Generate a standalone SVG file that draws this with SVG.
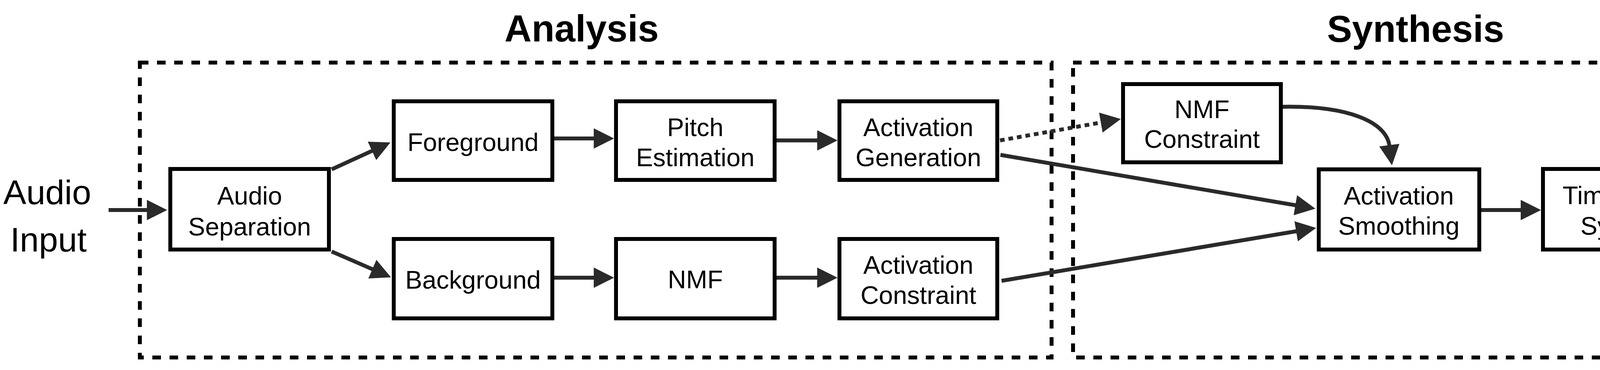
<svg xmlns="http://www.w3.org/2000/svg" width="4906" height="946" viewBox="0 0 4906 946">
<style>
.bg{fill:#ffffff}
.frame{fill:none;stroke:#000;stroke-width:10;stroke-dasharray:22 22}
.box{fill:#fff;stroke:#000;stroke-width:10}
.lbl{font-family:"Liberation Sans",Arial,Helvetica,sans-serif;font-size:65px;fill:#000;text-anchor:middle}
.big{font-family:"Liberation Sans",Arial,Helvetica,sans-serif;font-size:88px;fill:#000;text-anchor:middle}
.title{font-family:"Liberation Sans",Arial,Helvetica,sans-serif;font-size:96px;font-weight:bold;fill:#000;text-anchor:middle}
.conn{fill:none;stroke:#2a2a2a;stroke-width:10;marker-end:url(#arrow)}
.dot{stroke-dasharray:12 10}
</style>
<defs>
<marker id="arrow" markerUnits="userSpaceOnUse" viewBox="0 0 52 52" markerWidth="52" markerHeight="52" refX="2" refY="26" orient="auto">
<path d="M0,0 L52,26 L0,52 Z" fill="#2a2a2a"/>
</marker>
</defs>
<rect class="bg" x="0" y="0" width="4906" height="946"/>

<g id="analysis-frame">
<rect class="frame" x="358" y="160" width="2334" height="754"/>
<text class="title" x="1489" y="106">Analysis</text>
</g>
<g id="synthesis-frame">
<rect class="frame" x="2747" y="160" width="1728" height="754"/>
<text class="title" x="3624" y="107">Synthesis</text>
</g>

<g id="connectors">
<path class="conn" d="M278,537 L378,537"/>
<path class="conn" d="M849,433 L954,385"/>
<path class="conn" d="M849,643 L955,689"/>
<path class="conn" d="M1419,354 L1522,354"/>
<path class="conn" d="M1988,359 L2094,359"/>
<path class="conn" d="M1419,710 L1522,710"/>
<path class="conn" d="M1988,710 L2094,710"/>
<path class="conn dot" d="M2560,359 L2820,313"/>
<path class="conn" d="M2561,396 L3318,525"/>
<path class="conn" d="M2564,718 L3320,591"/>
<path class="conn" d="M3284,273 C3450,270 3549,311 3557,373"/>
<path class="conn" d="M3792,537 L3895,537"/>
<path class="conn" d="M4430,554 L4533,554"/>
</g>

<g id="audio-input">
<text class="big" x="121" y="522">Audio</text>
<text class="big" x="124" y="643">Input</text>
</g>

<g id="audio-separation">
<rect class="box" x="436" y="432" width="406" height="206"/>
<text class="lbl" x="639" y="523">Audio</text>
<text class="lbl" x="639" y="602">Separation</text>
</g>

<g id="foreground">
<rect class="box" x="1008" y="259" width="406" height="201"/>
<text class="lbl" x="1211" y="386">Foreground</text>
</g>

<g id="pitch-estimation">
<rect class="box" x="1577" y="259" width="406" height="201"/>
<text class="lbl" x="1780" y="348">Pitch</text>
<text class="lbl" x="1780" y="425">Estimation</text>
</g>

<g id="activation-generation">
<rect class="box" x="2149" y="259" width="404" height="201"/>
<text class="lbl" x="2351" y="348">Activation</text>
<text class="lbl" x="2351" y="425">Generation</text>
</g>

<g id="background">
<rect class="box" x="1008" y="611" width="406" height="203"/>
<text class="lbl" x="1211" y="738">Background</text>
</g>

<g id="nmf">
<rect class="box" x="1577" y="611" width="406" height="203"/>
<text class="lbl" x="1780" y="737">NMF</text>
</g>

<g id="activation-constraint">
<rect class="box" x="2149" y="611" width="404" height="203"/>
<text class="lbl" x="2351" y="700">Activation</text>
<text class="lbl" x="2351" y="777">Constraint</text>
</g>

<g id="nmf-constraint">
<rect class="box" x="2875" y="215" width="404" height="200"/>
<text class="lbl" x="3077" y="302">NMF</text>
<text class="lbl" x="3077" y="378">Constraint</text>
</g>

<g id="activation-smoothing">
<rect class="box" x="3376" y="433" width="411" height="205"/>
<text class="lbl" x="3581" y="523">Activation</text>
<text class="lbl" x="3581" y="600">Smoothing</text>
</g>

<g id="time-domain-synthesis">
<rect class="box" x="3950" y="432" width="475" height="206"/>
<text class="lbl" x="4187" y="522">Time domain</text>
<text class="lbl" x="4187" y="600">Synthesis</text>
</g>

<g id="output">
<text class="big" x="4759" y="583">Output</text>
</g>
</svg>
